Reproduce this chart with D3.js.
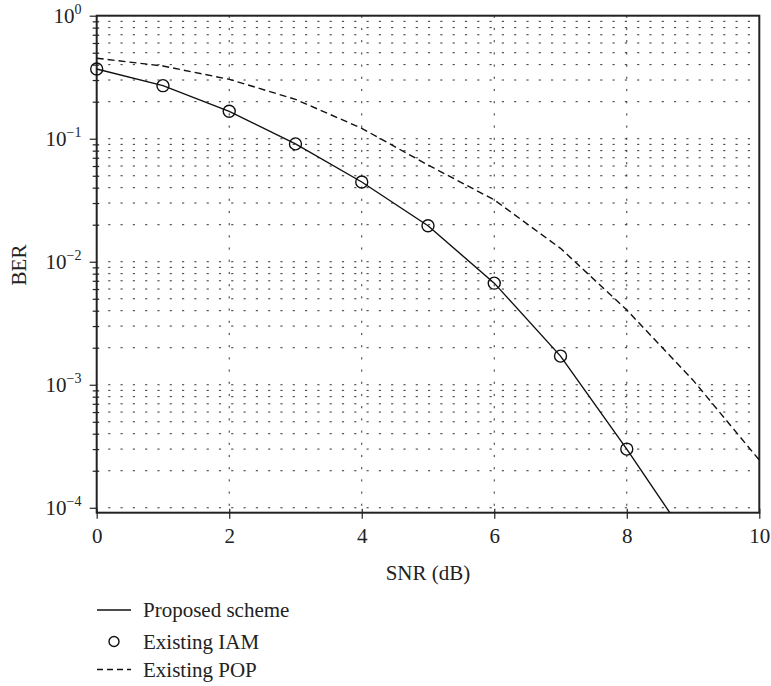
<!DOCTYPE html>
<html>
<head>
<meta charset="utf-8">
<script src="https://cdn.jsdelivr.net/npm/d3@7"></script>
<style>
  html, body { margin: 0; padding: 0; background: #fff; }
  svg { display: block; }
  text { font-family: "Liberation Serif", "DejaVu Serif", serif; fill: #222; }
</style>
</head>
<body>
<svg id="chart" width="771" height="686"></svg>
<script>
// ---- data ----
const snrProposed = [0, 1, 2, 3, 4, 5, 6, 7, 8, 9];
const berProposed = [0.369, 0.270, 0.167, 0.0908, 0.0445, 0.0196, 0.00670, 0.00171, 3.0e-4, 4.8e-5];
const snrIAM = [0, 1, 2, 3, 4, 5, 6, 7, 8];
const berIAM = [0.369, 0.270, 0.167, 0.0908, 0.0445, 0.0196, 0.00670, 0.00171, 3.0e-4];
const snrPOP = [0, 1, 2, 3, 4, 5, 6, 7, 8, 9, 10];
const berPOP = [0.451, 0.390, 0.304, 0.209, 0.1215, 0.0611, 0.0318, 0.01285, 0.00405, 0.00109, 2.44e-4];
const xTicks = [0, 2, 4, 6, 8, 10];
const yExponents = [0, -1, -2, -3, -4];
const legendLabels = ["Proposed scheme", "Existing IAM", "Existing POP"];
const xTitle = "SNR (dB)";
const yTitle = "BER";

// ---- layout ----
const pL = 96.7, pR = 759.3, pT = 15.7, pB = 512.7;
const svg = d3.select("#chart");
const x = d3.scaleLinear().domain([0, 10]).range([pL, pR]);
const y = d3.scaleLog().domain([Math.pow(10, -4.04), 1]).range([pB, pT]);

// clip
svg.append("defs").append("clipPath").attr("id", "plotclip")
  .append("rect").attr("x", pL).attr("y", pT).attr("width", pR - pL).attr("height", pB - pT);

// gridlines horizontal (major + minor)
const allVals = [];
yExponents.forEach(e => { for (let m = 1; m <= 9; m++) { const v = m * Math.pow(10, e); if (v <= 1 && v >= y.domain()[0]) allVals.push(v); } });
const isMajor = v => yExponents.some(e => Math.abs(Math.log10(v) - e) < 1e-9);
const grid = svg.append("g");
grid.selectAll("line.h").data(allVals).enter().append("line")
  .attr("x1", pL + 1).attr("x2", pR)
  .attr("y1", d => y(d)).attr("y2", d => y(d))
  .attr("stroke", "#333").attr("stroke-width", 1)
  .attr("stroke-dasharray", "2.2,10.1").attr("stroke-dashoffset", -10.5);
grid.selectAll("line.v").data(xTicks.filter(t => t > 0 && t < 10)).enter().append("line")
  .attr("x1", d => x(d)).attr("x2", d => x(d))
  .attr("y1", pT).attr("y2", pB)
  .attr("stroke", "#333").attr("stroke-width", 1)
  .attr("stroke-dasharray", "2.2,10");

// axes
const yAxisMinor = d3.axisLeft(y).tickValues(allVals.filter(v => !isMajor(v))).tickSize(4).tickFormat("");
const gMinor = svg.append("g").attr("transform", `translate(${pL},0)`).call(yAxisMinor);
gMinor.select(".domain").remove();
gMinor.selectAll(".tick line").attr("x2", -4).attr("x1", 2.5).attr("stroke", "#222").attr("stroke-width", 1.2);

const yAxisMajor = d3.axisLeft(y).tickValues(yExponents.map(e => Math.pow(10, e))).tickSize(7).tickFormat("");
const gMajor = svg.append("g").attr("transform", `translate(${pL},0)`).call(yAxisMajor);
gMajor.select(".domain").remove();
gMajor.selectAll(".tick line").attr("stroke", "#222").attr("stroke-width", 1.2);

// y labels 10^e
const ylab = svg.append("g");
yExponents.forEach(e => {
  const t = ylab.append("text").attr("x", 81.5).attr("y", y(Math.pow(10, e)) + 7.5)
    .attr("text-anchor", "end").attr("font-size", 21);
  t.append("tspan").text("10");
  t.append("tspan").attr("dy", -9).attr("font-size", 14).text(e === 0 ? "0" : "\u2212" + Math.abs(e));
});

const xAxis = d3.axisBottom(x).tickValues(xTicks).tickSize(6).tickFormat(d3.format("d"));
const gx = svg.append("g").attr("transform", `translate(0,${pB})`).call(xAxis);
gx.select(".domain").remove();
gx.selectAll(".tick line").attr("stroke", "#222").attr("stroke-width", 1.2).attr("y1", -4);
gx.selectAll(".tick text").attr("font-size", 21).attr("dy", 0).attr("y", 30.5)
  .style("font-family", "Liberation Serif, serif").attr("fill", "#222");

// frame
svg.append("rect").attr("x", pL).attr("y", pT).attr("width", pR - pL).attr("height", pB - pT)
  .attr("fill", "none").attr("stroke", "#222").attr("stroke-width", 2);

// curves
const plot = svg.append("g").attr("clip-path", "url(#plotclip)");
const line = d3.line().x(d => x(d[0])).y(d => y(d[1]));
plot.append("path").datum(snrProposed.map((s, i) => [s, berProposed[i]]))
  .attr("d", line).attr("fill", "none").attr("stroke", "#111").attr("stroke-width", 1.4);
plot.append("path").datum(snrPOP.map((s, i) => [s, berPOP[i]]))
  .attr("d", line).attr("fill", "none").attr("stroke", "#111").attr("stroke-width", 1.4)
  .attr("stroke-dasharray", "7,4");
svg.append("g").selectAll("circle").data(snrIAM.map((s, i) => [s, berIAM[i]])).enter().append("circle")
  .attr("cx", d => x(d[0])).attr("cy", d => y(d[1])).attr("r", 6)
  .attr("fill", "none").attr("stroke", "#111").attr("stroke-width", 1.4);

// titles
svg.append("text").attr("x", 428).attr("y", 580).attr("text-anchor", "middle")
  .attr("font-size", 21).text(xTitle);
svg.append("text").attr("transform", `translate(26,265) rotate(-90)`).attr("text-anchor", "middle")
  .attr("font-size", 21).text(yTitle);

// legend
const lg = svg.append("g");
const ly = [610, 641.5, 669.5];
lg.append("line").attr("x1", 97).attr("x2", 131).attr("y1", ly[0]).attr("y2", ly[0])
  .attr("stroke", "#111").attr("stroke-width", 1.4);
lg.append("circle").attr("cx", 114).attr("cy", ly[1]).attr("r", 5)
  .attr("fill", "none").attr("stroke", "#111").attr("stroke-width", 1.4);
lg.append("line").attr("x1", 97).attr("x2", 131).attr("y1", ly[2]).attr("y2", ly[2])
  .attr("stroke", "#111").attr("stroke-width", 1.4).attr("stroke-dasharray", "6,4");
legendLabels.forEach((l, i) => {
  lg.append("text").attr("x", 143).attr("y", ly[i] + 7).attr("font-size", 21).text(l);
});
</script>
</body>
</html>
